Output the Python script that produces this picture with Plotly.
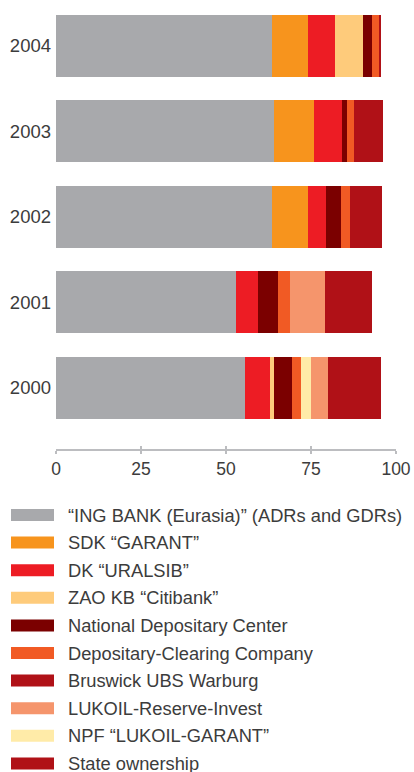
import plotly.graph_objects as go

years = ["2000", "2001", "2002", "2003", "2004"]

series_names = [
    "\u201cING BANK (Eurasia)\u201d (ADRs and GDRs)",
    "SDK \u201cGARANT\u201d",
    "DK \u201cURALSIB\u201d",
    "ZAO KB \u201cCitibank\u201d",
    "National Depositary Center",
    "Depositary-Clearing Company",
    "Bruswick UBS Warburg",
    "LUKOIL-Reserve-Invest",
    "NPF \u201cLUKOIL-GARANT\u201d",
    "State ownership",
]

# values per year in order 2000, 2001, 2002, 2003, 2004 (%)
ing_bank = [55.6, 53.0, 63.6, 64.2, 63.6]
sdk_garant = [0.0, 0.0, 10.6, 11.8, 10.6]
dk_uralsib = [7.4, 6.5, 5.3, 8.0, 8.0]
citibank = [1.2, 0.0, 0.0, 0.0, 8.0]
ndc = [5.3, 5.9, 4.4, 1.5, 2.7]
dcc = [2.7, 3.3, 2.7, 2.1, 2.1]
bruswick = [0.0, 0.0, 0.0, 0.0, 0.6]
lukoil_reserve = [5.0, 10.4, 0.0, 0.0, 0.0]
npf_garant = [2.7, 0.0, 0.0, 0.0, 0.0]
state = [15.7, 13.9, 9.2, 8.6, 0.0]

series_values = [ing_bank, sdk_garant, dk_uralsib, citibank, ndc, dcc,
                 bruswick, lukoil_reserve, npf_garant, state]

colors = ["#a8a9ac", "#f7941d", "#ed1c24", "#fecb7b", "#7b0000",
          "#f15a24", "#b01117", "#f5956c", "#ffeba8", "#b01117"]

# order in which segments are stacked from left to right (indices into series)
stack_order = [0, 1, 2, 3, 4, 5, 8, 7, 6, 9]

x_ticks = [0, 25, 50, 75, 100]

W, H = 414, 772
ML, MR, MT, MB = 56, 18, 3, 323
FONT = "Liberation Sans"
TXT = "#3c3c3c"

fig = go.Figure()
for i in stack_order:
    fig.add_trace(go.Bar(
        y=years, x=series_values[i], name=series_names[i], orientation="h",
        marker=dict(color=colors[i], line=dict(width=0)),
        showlegend=False, hoverinfo="x+name",
    ))

# invisible trace to carry the second x axis (inner tick halves)
fig.add_trace(go.Scatter(x=[0, 100], y=["2000", "2000"], xaxis="x2",
                         mode="markers", marker=dict(opacity=0),
                         showlegend=False, hoverinfo="skip"))

# manual legend with wide swatches
pw = W - ML - MR
ph = H - MT - MB
def px_to_paper_x(px):
    return (px - ML) / pw
def px_to_paper_y(py):
    return 1 - (py - MT) / ph

legend_y0 = 515.0
legend_step = 27.6
shapes = []
annotations = []
for i, (name, col) in enumerate(zip(series_names, colors)):
    yc = legend_y0 + i * legend_step
    shapes.append(dict(type="rect", xref="paper", yref="paper",
                       x0=px_to_paper_x(11), x1=px_to_paper_x(54),
                       y0=px_to_paper_y(yc - 6), y1=px_to_paper_y(yc + 6),
                       fillcolor=col, line=dict(width=0)))
    annotations.append(dict(xref="paper", yref="paper",
                            x=px_to_paper_x(66), y=px_to_paper_y(yc),
                            xanchor="left", yanchor="middle", showarrow=False,
                            text=name, font=dict(family=FONT, size=18.3, color=TXT)))

fig.update_layout(
    width=W, height=H,
    margin=dict(l=ML, r=MR, t=MT, b=MB, pad=0),
    barmode="stack", bargap=0.28,
    paper_bgcolor="white", plot_bgcolor="white",
    showlegend=False,
    font=dict(family=FONT, color=TXT),
    xaxis=dict(range=[0, 100], tickvals=x_ticks, ticktext=[str(t) for t in x_ticks],
               showgrid=False, zeroline=False, showline=True,
               linecolor="#bcbdc0", linewidth=2,
               ticks="outside", ticklen=3, tickwidth=2, tickcolor="#bcbdc0",
               tickfont=dict(family=FONT, size=17.5, color=TXT), fixedrange=True),
    xaxis2=dict(range=[0, 100], overlaying="x", anchor="y", side="bottom",
                tickvals=x_ticks, showticklabels=False, showgrid=False,
                zeroline=False, showline=False,
                ticks="inside", ticklen=3, tickwidth=2, tickcolor="#bcbdc0"),
    yaxis=dict(type="category", categoryorder="array", categoryarray=years,
               range=[-0.716, 4.5], showgrid=False, zeroline=False, showline=False,
               ticks="", ticklabelstandoff=4,
               tickfont=dict(family=FONT, size=18.5, color=TXT), fixedrange=True),
    shapes=shapes, annotations=annotations,
)

fig.write_html("out.html", config={"displayModeBar": False},
               post_script="document.body.style.margin='0px';document.body.style.padding='0px';")
